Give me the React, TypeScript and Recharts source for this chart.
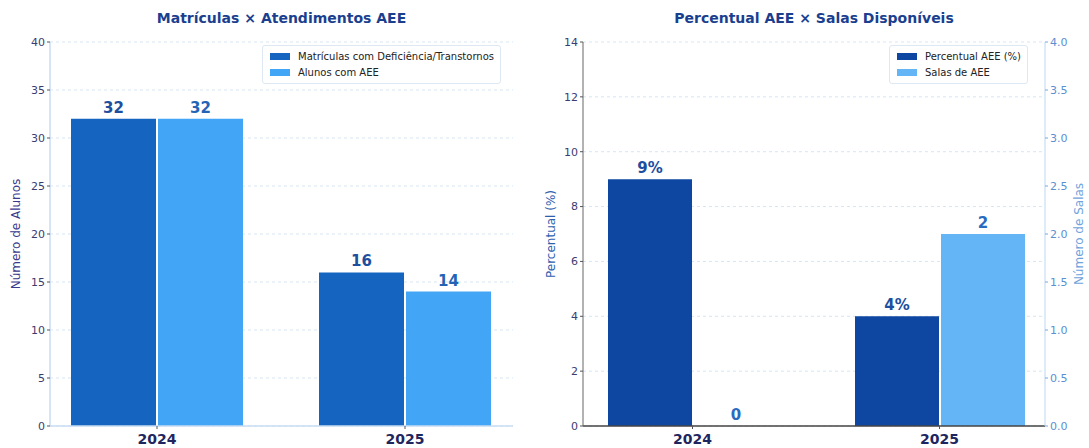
import React from 'react';
import { BarChart, Bar, XAxis, YAxis, CartesianGrid, LabelList, Legend } from 'recharts';

// categories
const anos = ['2024', '2025'];

// left chart series
const matriculas = [32, 16];
const alunosAEE = [32, 14];
const ticksAlunos = [0, 5, 10, 15, 20, 25, 30, 35, 40];

// right chart series
const percentualAEE = [9, 4];
const salasAEE = [0, 2];
const ticksPercentual = [0, 2, 4, 6, 8, 10, 12, 14];
const ticksSalas = [0, 0.5, 1, 1.5, 2, 2.5, 3, 3.5, 4];

// legend order = order of series in the figure
const ordemSeries = ['matriculas', 'alunos', 'percentual', 'salas'];

const FONT = '"DejaVu Sans", sans-serif';

const dadosEsq = anos.map((ano, i) => ({ ano, matriculas: matriculas[i], alunos: alunosAEE[i] }));
const dadosDir = anos.map((ano, i) => ({ ano, percentual: percentualAEE[i], salas: salasAEE[i] }));

const LegendBox = ({ payload }: any) => {
  const itens = [...(payload || [])].sort(
    (a: any, b: any) => ordemSeries.indexOf(a.dataKey) - ordemSeries.indexOf(b.dataKey)
  );
  return (
    <div
      style={{
        border: '1px solid #dde8f4',
        borderRadius: 3,
        background: 'rgba(255,255,255,0.9)',
        padding: '2px 6px 3px 7px',
        fontFamily: FONT,
        fontSize: 10,
        color: '#222',
      }}
    >
      {itens.map((p: any) => (
        <div key={p.value} style={{ display: 'flex', alignItems: 'center', height: 16 }}>
          <span style={{ display: 'inline-block', width: 20, height: 7, background: p.color, marginRight: 8 }} />
          <span>{p.value}</span>
        </div>
      ))}
    </div>
  );
};

const titleStyle = (left: number, width: number): React.CSSProperties => ({
  position: 'absolute',
  left,
  width,
  top: 10,
  textAlign: 'center',
  fontFamily: FONT,
  fontWeight: 'bold',
  fontSize: 14,
  color: '#1a3f8f',
});

const XTick = ({ x, y, payload }: any) => (
  <text x={x} y={y + 13} textAnchor="middle" fontFamily={FONT} fontWeight="bold" fontSize={14} fill="#1e2660">
    {payload.value}
  </text>
);

export default function App() {
  return (
    <div style={{ position: 'absolute', left: 0, top: 0, width: 1089, height: 448, background: '#fff', overflow: 'hidden' }}>
      <div style={titleStyle(50, 463)}>Matrículas × Atendimentos AEE</div>
      <div style={titleStyle(583, 462)}>Percentual AEE × Salas Disponíveis</div>

      <div style={{ position: 'absolute', left: 0, top: 0 }}>
        <BarChart
          width={540}
          height={448}
          data={dadosEsq}
          margin={{ top: 42, right: 27, left: 0, bottom: 0 }}
          barGap={2}
          barSize={85}
        >
          <CartesianGrid vertical={false} stroke="#d6e5f5" strokeDasharray="3 3" />
          <XAxis
            dataKey="ano"
            height={22}
            padding={{ left: -17, right: -16 }}
            axisLine={{ stroke: '#c9ddf2', strokeWidth: 1.5 }}
            tickLine={{ stroke: '#555' }}
            tickSize={3}
            tick={<XTick />}
          />
          <YAxis
            width={50}
            domain={[0, 40]}
            ticks={ticksAlunos}
            interval={0}
            axisLine={{ stroke: '#c9ddf2', strokeWidth: 1.5 }}
            tickLine={{ stroke: '#555' }}
            tickSize={3}
            tick={{ fontFamily: FONT, fontSize: 11, fill: '#3c3c70' }}
            label={{
              value: 'Número de Alunos',
              angle: -90,
              position: 'insideLeft',
              offset: 16,
              style: { textAnchor: 'middle', fontFamily: FONT, fontSize: 12, fill: '#3a3a8c' },
            }}
          />
          <Legend
            layout="vertical"
            align="center"
            verticalAlign="middle"
            wrapperStyle={{ left: 262, top: 45, width: 'auto', height: 'auto' }}
            content={<LegendBox />}
          />
          <Bar dataKey="matriculas" name="Matrículas com Deficiência/Transtornos" fill="#1565c0" isAnimationActive={false}>
            <LabelList dataKey="matriculas" position="top" offset={6} style={{ fontFamily: FONT, fontWeight: 'bold', fontSize: 15, fill: '#1d4f9e' }} />
          </Bar>
          <Bar dataKey="alunos" name="Alunos com AEE" fill="#42a5f5" isAnimationActive={false}>
            <LabelList dataKey="alunos" position="top" offset={6} style={{ fontFamily: FONT, fontWeight: 'bold', fontSize: 15, fill: '#2563b5' }} />
          </Bar>
        </BarChart>
      </div>

      <div style={{ position: 'absolute', left: 540, top: 0 }}>
        <BarChart
          width={549}
          height={448}
          data={dadosDir}
          margin={{ top: 42, right: 0, left: 0, bottom: 0 }}
          barGap={2}
          barSize={84}
        >
          <CartesianGrid vertical={false} yAxisId="esq" stroke="#d6e5f5" strokeDasharray="3 3" />
          <XAxis
            dataKey="ano"
            height={22}
            padding={{ left: -14, right: -18 }}
            axisLine={{ stroke: '#444', strokeWidth: 1.5 }}
            tickLine={{ stroke: '#555' }}
            tickSize={3}
            tick={<XTick />}
          />
          <YAxis
            yAxisId="esq"
            orientation="left"
            width={43}
            domain={[0, 14]}
            ticks={ticksPercentual}
            interval={0}
            axisLine={{ stroke: '#666' }}
            tickLine={{ stroke: '#555' }}
            tickSize={3}
            tick={{ fontFamily: FONT, fontSize: 11, fill: '#3c3c70' }}
            label={{
              value: 'Percentual (%)',
              angle: -90,
              position: 'insideLeft',
              offset: 11,
              style: { textAnchor: 'middle', fontFamily: FONT, fontSize: 12, fill: '#2e60ae' },
            }}
          />
          <YAxis
            yAxisId="dir"
            orientation="right"
            width={44}
            domain={[0, 4]}
            ticks={ticksSalas}
            interval={0}
            tickFormatter={(v: number) => v.toFixed(1)}
            axisLine={{ stroke: '#bcd6f0' }}
            tickLine={{ stroke: '#7aa8dc' }}
            tickSize={3}
            tick={{ fontFamily: FONT, fontSize: 11, fill: '#5b8fd2' }}
            label={{
              value: 'Número de Salas',
              angle: -90,
              position: 'insideRight',
              offset: 10,
              style: { textAnchor: 'middle', fontFamily: FONT, fontSize: 12, fill: '#6ea3dc' },
            }}
          />
          <Legend
            layout="vertical"
            align="center"
            verticalAlign="middle"
            wrapperStyle={{ left: 349, top: 45, width: 'auto', height: 'auto' }}
            content={<LegendBox />}
          />
          <Bar dataKey="percentual" yAxisId="esq" name="Percentual AEE (%)" fill="#0d47a1" isAnimationActive={false}>
            <LabelList
              dataKey="percentual"
              position="top"
              offset={6}
              formatter={(v: any) => `${v}%`}
              style={{ fontFamily: FONT, fontWeight: 'bold', fontSize: 15, fill: '#1d4f9e' }}
            />
          </Bar>
          <Bar dataKey="salas" yAxisId="dir" name="Salas de AEE" fill="#64b5f6" minPointSize={0.1} isAnimationActive={false}>
            <LabelList dataKey="salas" position="top" offset={6} style={{ fontFamily: FONT, fontWeight: 'bold', fontSize: 15, fill: '#2a6bc0' }} />
          </Bar>
        </BarChart>
      </div>
    </div>
  );
}
